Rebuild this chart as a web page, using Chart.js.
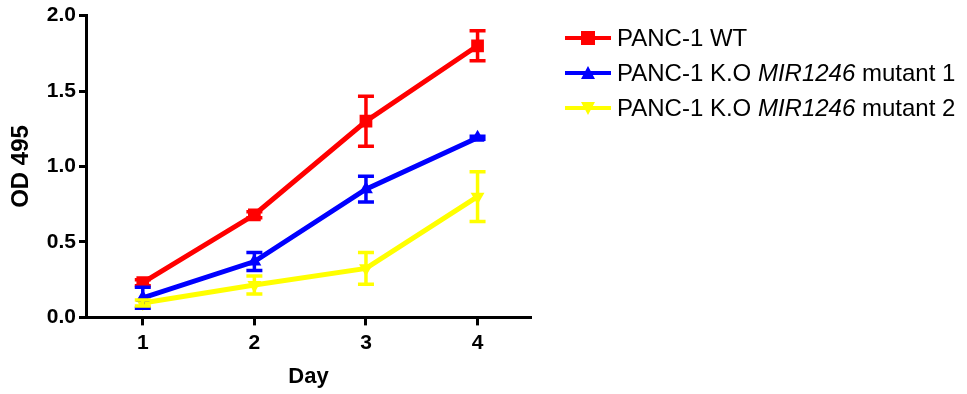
<!DOCTYPE html>
<html>
<head>
<meta charset="utf-8">
<script src="https://cdn.jsdelivr.net/npm/chart.js@4"></script>
<style>
  body { margin: 0; background: #fff; }
  #wrap { position: relative; width: 967px; height: 394px; }
  #legend { position: absolute; left: 565px; top: 20px; font-family: "Liberation Sans", Arial, sans-serif; font-size: 24px; color: #000; }
  .item { display: flex; align-items: center; height: 35px; }
  .item svg { margin-right: 6px; }
</style>
</head>
<body>
<div id="wrap">
  <canvas id="canvas" width="967" height="394"></canvas>
  <div id="legend"></div>
</div>
<script>
// data
const days = [1, 2, 3, 4];
const wtMean = [0.23, 0.68, 1.30, 1.80];
const wtErr = [0.02, 0.02, 0.165, 0.10];
const mut1Mean = [0.13, 0.37, 0.85, 1.19];
const mut1Err = [0.07, 0.06, 0.085, 0.01];
const mut2Mean = [0.095, 0.215, 0.325, 0.80];
const mut2Err = [0.02, 0.06, 0.105, 0.165];
const yTicks = [0, 0.5, 1.0, 1.5, 2.0];

const series = [
  { label: "PANC-1 WT", italic: "", rest: "", color: "#ff0000", style: "rect", rot: 0, r: 9, mean: wtMean, err: wtErr },
  { label: "PANC-1 K.O ", italic: "MIR1246", rest: " mutant 1", color: "#0000ff", style: "triangle", rot: 0, r: 8, mean: mut1Mean, err: mut1Err },
  { label: "PANC-1 K.O ", italic: "MIR1246", rest: " mutant 2", color: "#ffff00", style: "triangle", rot: 180, r: 8, mean: mut2Mean, err: mut2Err },
];

const font = "'Liberation Sans', Arial, sans-serif";

// error bars, drawn through the scales
const errorBars = {
  id: "errorBars",
  afterDatasetsDraw(chart) {
    const ctx = chart.ctx;
    const xs = chart.scales.x, ys = chart.scales.y;
    series.forEach(s => {
      ctx.save();
      ctx.strokeStyle = s.color;
      ctx.lineWidth = 3.5;
      s.mean.forEach((m, i) => {
        const e = s.err[i];
        if (!e) return;
        const x = xs.getPixelForValue(days[i]);
        const top = ys.getPixelForValue(m + e);
        const bot = ys.getPixelForValue(m - e);
        ctx.beginPath();
        ctx.moveTo(x, top); ctx.lineTo(x, bot);
        ctx.moveTo(x - 8, top); ctx.lineTo(x + 8, top);
        ctx.moveTo(x - 8, bot); ctx.lineTo(x + 8, bot);
        ctx.stroke();
      });
      ctx.restore();
    });
  }
};

const canvas = document.getElementById("canvas");
const chart = new Chart(canvas, {
  type: "line",
  data: {
    datasets: series.map(s => ({
      label: s.label + s.italic + s.rest,
      data: days.map((d, i) => ({ x: d, y: s.mean[i] })),
      borderColor: s.color,
      backgroundColor: s.color,
      borderWidth: 5,
      pointStyle: s.style,
      pointRotation: s.rot,
      pointRadius: s.r,
      pointBorderWidth: 0,
      tension: 0,
    })),
  },
  options: {
    responsive: false,
    animation: false,
    layout: { padding: { left: 3, top: 14, right: 437, bottom: 0 } },
    plugins: { legend: { display: false }, tooltip: { enabled: false } },
    scales: {
      x: {
        type: "linear",
        min: 0.5,
        max: 4.47,
        afterBuildTicks: axis => { axis.ticks = days.map(v => ({ value: v })); },
        grid: { display: true, drawOnChartArea: false, drawTicks: true, tickLength: 8, lineWidth: 3, color: "#000" },
        border: { display: true, width: 3, color: "#000" },
        ticks: { color: "#000", font: { family: font, size: 21, weight: "bold" }, padding: 5 },
        title: { display: true, text: "Day", color: "#000", font: { family: font, size: 22, weight: "bold" }, padding: { top: 3 } },
      },
      y: {
        min: 0,
        max: 2,
        afterBuildTicks: axis => { axis.ticks = yTicks.map(v => ({ value: v })); },
        grid: { display: true, drawOnChartArea: false, drawTicks: true, tickLength: 8, lineWidth: 3, color: "#000" },
        border: { display: true, width: 3, color: "#000" },
        ticks: { color: "#000", font: { family: font, size: 21, weight: "bold" }, padding: 3, callback: v => v.toFixed(1) },
        title: { display: true, text: "OD 495", color: "#000", font: { family: font, size: 24, weight: "bold" }, padding: { bottom: 8 } },
      },
    },
  },
  plugins: [errorBars],
});

// legend with italic gene name
const legend = document.getElementById("legend");
series.forEach(s => {
  const item = document.createElement("div");
  item.className = "item";
  let marker;
  if (s.style === "rect") {
    marker = `<rect x="16" y="3" width="14" height="14" fill="${s.color}"/>`;
  } else if (s.rot === 0) {
    marker = `<polygon points="23,3 30,16 16,16" fill="${s.color}"/>`;
  } else {
    marker = `<polygon points="16,4 30,4 23,17" fill="${s.color}"/>`;
  }
  item.innerHTML =
    `<svg width="46" height="20"><line x1="0" y1="10" x2="46" y2="10" stroke="${s.color}" stroke-width="4"/>${marker}</svg>` +
    `<span>${s.label}<i>${s.italic}</i>${s.rest}</span>`;
  legend.appendChild(item);
});
</script>
</body>
</html>
